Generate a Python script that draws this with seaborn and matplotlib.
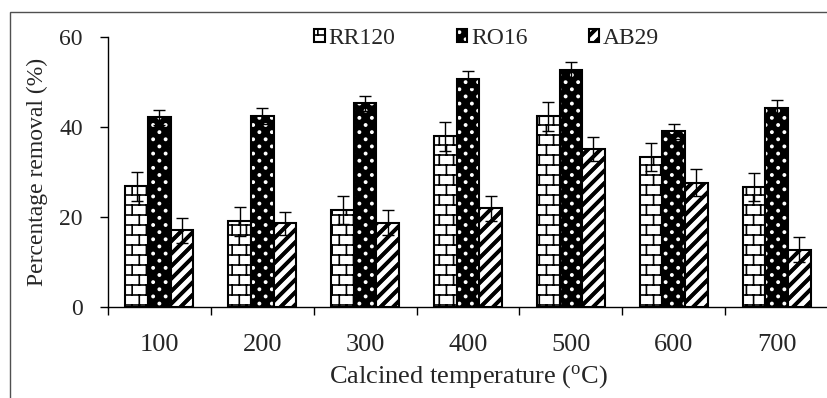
import numpy as np
import pandas as pd
import matplotlib
matplotlib.use("Agg")
import matplotlib.pyplot as plt
import matplotlib.hatch as mhatch
import matplotlib.colors as mcolors
from matplotlib.path import Path
from matplotlib.patches import Rectangle
import seaborn as sns

# ---------------- data ----------------
temperatures = ["100", "200", "300", "400", "500", "600", "700"]
dyes = ["RR120", "RO16", "AB29"]
rr120 = [26.8, 19.0, 21.5, 37.9, 42.3, 33.2, 26.5]
ro16 = [42.1, 42.4, 45.2, 50.6, 52.5, 39.0, 44.2]
ab29 = [17.0, 18.5, 18.7, 21.9, 35.0, 27.6, 12.7]
rr120_err = [3.2, 3.2, 3.1, 3.2, 3.2, 3.1, 3.1]
ro16_err = [1.7, 1.7, 1.7, 1.7, 1.8, 1.7, 1.7]
ab29_err = [2.8, 2.6, 2.7, 2.8, 2.6, 2.9, 2.7]
y_ticks = [0, 20, 40, 60]


# ---------------- custom hatch patterns (style only) ----------------
def _segs_to_vc(segs):
    v = []
    for (a, b) in segs:
        v.append(a)
        v.append(b)
    return np.array(v, dtype=float)


class BrickHatch:
    rows, cols = 10, 7

    def __init__(self, hatch, density):
        segs = []
        if "+" in hatch:
            R, C = self.rows, self.cols
            for k in range(R):
                y0 = (k + 0.5) / R
                segs.append(((0.0, y0), (1.0, y0)))
            for k in range(R):
                y0 = (k + 0.5) / R
                y1 = (k + 1.5) / R
                for j in range(C):
                    x = (j + 0.25 + 0.5 * (k % 2)) / C
                    if y1 > 1.0:
                        segs.append(((x, y0), (x, 1.0)))
                        segs.append(((x, 0.0), (x, y1 - 1.0)))
                    else:
                        segs.append(((x, y0), (x, y1)))
        self.segs = segs
        self.num_vertices = 2 * len(segs)

    def set_vertices_and_codes(self, vertices, codes):
        vertices[:] = _segs_to_vc(self.segs)
        codes[0::2] = Path.MOVETO
        codes[1::2] = Path.LINETO


class DotHatch:
    rows, cols, r = 14, 8, 0.011

    def __init__(self, hatch, density):
        circ = Path.unit_circle()
        self.cv, self.cc = circ.vertices, circ.codes
        centers = []
        if "." in hatch:
            for k in range(self.rows):
                for j in range(self.cols):
                    centers.append(((j + 0.25 + 0.5 * (k % 2)) / self.cols,
                                    (k + 0.5) / self.rows))
        self.centers = centers
        self.num_vertices = len(centers) * len(self.cv)

    def set_vertices_and_codes(self, vertices, codes):
        n = len(self.cv)
        for i, (cx, cy) in enumerate(self.centers):
            vertices[i * n:(i + 1) * n] = self.cv * self.r + (cx, cy)
            codes[i * n:(i + 1) * n] = self.cc


class StripeHatch:
    n = 8
    offs = (-0.016, -0.008, 0.0, 0.008, 0.016)

    def __init__(self, hatch, density):
        segs = []
        if "/" in hatch:
            for k in range(-self.n, self.n + 1):
                for o in self.offs:
                    c = k / self.n + o
                    segs.append(((0.0, c), (1.0, 1.0 + c)))
        self.segs = segs
        self.num_vertices = 2 * len(segs)

    def set_vertices_and_codes(self, vertices, codes):
        vertices[:] = _segs_to_vc(self.segs)
        codes[0::2] = Path.MOVETO
        codes[1::2] = Path.LINETO


mhatch._hatch_types = [BrickHatch, DotHatch, StripeHatch]

# ---------------- style ----------------
sns.set_theme(style="white")
plt.rcParams["font.family"] = ["Liberation Serif", "DejaVu Serif"]
plt.rcParams["mathtext.fontset"] = "custom"
plt.rcParams["mathtext.rm"] = "Liberation Serif"
plt.rcParams["hatch.linewidth"] = 1.2
FS = 17

df = pd.DataFrame({
    "Temperature": temperatures * 3,
    "Dye": [d for d in dyes for _ in temperatures],
    "Value": rr120 + ro16 + ab29,
})
errs = [rr120_err, ro16_err, ab29_err]

fig = plt.figure(figsize=(8.28, 3.98), dpi=100)
ax = fig.add_axes([108 / 828, (398 - 306.7) / 398, (828 - 108) / 828, 270 / 398])

sns.barplot(data=df, x="Temperature", y="Value", hue="Dye",
            order=temperatures, hue_order=dyes,
            palette=["white", "black", "white"], saturation=1,
            width=0.66, errorbar=None, edgecolor="black", linewidth=1.5,
            legend=False, ax=ax)

bar_containers = list(ax.containers)
hatches = ["+", ".", "/"]
hatch_colors = ["black", "white", "black"]
faces = ["white", "black", "white"]
for cont, h, hc, fc in zip(bar_containers, hatches, hatch_colors, faces):
    for p in cont:
        p.set_facecolor(fc)
        p.set_edgecolor("black")
        p.set_linewidth(1.5)
        p.set_hatch(h)
        if hasattr(p, "set_hatchcolor"):
            p.set_hatchcolor(hc)
        else:
            p._hatch_color = mcolors.to_rgba(hc)

for cont, e in zip(bar_containers, errs):
    xs = [p.get_x() + p.get_width() / 2 for p in cont]
    ys = [p.get_height() for p in cont]
    ax.errorbar(xs, ys, yerr=e, fmt="none", ecolor="black",
                elinewidth=1.0, capsize=4, capthick=1.0, zorder=5)

ax.legend(bar_containers, dyes, loc="center", bbox_to_anchor=(0.526, 0.993),
          ncol=3, frameon=False, fontsize=FS, handlelength=0.45,
          handleheight=0.45, handletextpad=0.15, columnspacing=2.6,
          borderpad=0, borderaxespad=0)

ax.set_ylim(0, 60)
ax.set_yticks(y_ticks)
ax.set_xlim(-0.5, len(temperatures) - 0.5)
ax.set_xticks(np.arange(-0.5, len(temperatures)), labels=[""] * (len(temperatures) + 1))
ax.set_xticks(np.arange(len(temperatures)), labels=temperatures, minor=True)
ax.tick_params(axis="x", which="major", direction="out", length=6, width=1,
               color="black", bottom=True)
ax.tick_params(axis="x", which="minor", length=0, pad=20, labelsize=19)
ax.tick_params(axis="y", direction="out", length=6, width=1, color="black",
               pad=12, labelsize=FS, left=True)

for s in ["top", "right"]:
    ax.spines[s].set_visible(False)
for s in ["left", "bottom"]:
    ax.spines[s].set_color("black")
    ax.spines[s].set_linewidth(1.0)

ax.set_ylabel("Percentage removal (%)", fontsize=17, labelpad=8)
ax.set_xlabel(r"Calcined temperature ($\mathregular{^{o}}$C)", fontsize=19, labelpad=5)

frame = Rectangle((9.5 / 828, -0.5), 1.5, (398 - 11.5) / 398 + 0.5,
                  transform=fig.transFigure, fill=False, edgecolor="#505050",
                  linewidth=1.0)
fig.add_artist(frame)

fig.savefig("out.png", dpi=100)
